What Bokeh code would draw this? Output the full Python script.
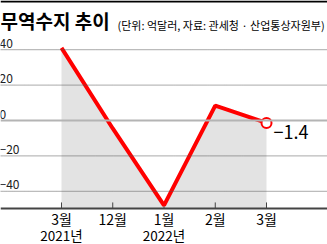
from bokeh.plotting import figure
from bokeh.layouts import column
from bokeh.models import Span, ColumnDataSource, Range1d
from bokeh.core.properties import value
from bokeh.embed import file_html
from bokeh.resources import INLINE

# data
month_labels = ["3월", "12월", "1월", "2월", "3월"]
year_labels = ["2021년", "", "2022년", "", ""]
balance = [41.0, -4.5, -48.0, 8.4, -1.4]
y_ticks = [40, 20, 0, -20, -40]
y_tick_labels = ["40", "20", "0", "−20", "−40"]
last_label = "−1.4"
title_text = "무역수지 추이"
sub_text = "(단위: 억달러, 자료: 관세청 · 산업통상자원부)"

FONT = "Noto Sans CJK KR"
idx = list(range(len(month_labels)))
y_axis_min = -49.7
y_bottom = -70.06
y_top = 48.59


def bare(fig):
    fig.outline_line_color = None
    fig.background_fill_color = "white"
    fig.border_fill_color = "white"
    fig.xaxis.visible = False
    fig.yaxis.visible = False
    fig.xgrid.visible = False
    fig.ygrid.visible = False


# header
h = figure(width=327, height=34, output_backend="svg", toolbar_location=None,
           x_range=Range1d(0, 327), y_range=Range1d(34, 0),
           min_border_left=0, min_border_right=0, min_border_top=0, min_border_bottom=0)
bare(h)
h.line(x=[0, 327], y=[1, 1], line_color="black", line_width=2)
h.text(x=[0], y=[20], text=[title_text], text_baseline="middle", text_font=value(FONT),
       text_font_size="19px", text_font_style="bold", text_color="black")
h.text(x=[117], y=[24], text=[sub_text], text_baseline="middle", text_font=value(FONT),
       text_font_size="11px", text_color="black")

# main
p = figure(width=327, height=210, output_backend="svg", toolbar_location=None,
           x_range=Range1d(-1.19, 5.19), y_range=Range1d(y_bottom, y_top),
           min_border_left=0, min_border_right=0, min_border_top=0, min_border_bottom=0)
bare(p)

for t in y_ticks:
    if t != 0:
        p.add_layout(Span(location=t, dimension="width", line_color="#555555",
                          line_width=1, line_dash="1 1"))

src = ColumnDataSource(dict(x=idx, y=balance, base=[y_axis_min] * len(idx)))
p.varea(x="x", y1="base", y2="y", source=src, fill_color="#e3e3e3")

p.add_layout(Span(location=0, dimension="width", line_color="#b4b4b4", line_width=2,
                  level="overlay"))

# x axis line and ticks
p.add_layout(Span(location=y_axis_min, dimension="width", line_color="#444444", line_width=2))
p.segment(x0=idx, x1=idx, y0=[y_axis_min] * len(idx), y1=[y_axis_min + 3.4] * len(idx),
          line_color="#444444", line_width=1)

p.line(x="x", y="y", source=src, line_color="#ff0000", line_width=4)
p.scatter(x=[idx[-1]], y=[balance[-1]], size=10, fill_color="white",
          line_color="#ff0000", line_width=2)
p.text(x=[idx[-1]], y=[balance[-1]], text=[last_label], x_offset=7, y_offset=9,
       text_baseline="middle", text_font=value(FONT), text_font_size="18px",
       text_color="black")

# y tick labels
p.text(x=[-1.19] * len(y_ticks), y=y_ticks, text=y_tick_labels, x_offset=-1, y_offset=-2,
       text_baseline="bottom", text_align="left", text_font=value(FONT),
       text_font_size="12px", text_color="#222222")

# x tick labels
p.text(x=idx, y=[-55.9] * len(idx), text=month_labels, text_align="center",
       text_baseline="middle", text_font=value(FONT), text_font_size="14px",
       text_color="black")
p.text(x=idx, y=[-64.6] * len(idx), text=year_labels, text_align="center",
       text_baseline="middle", text_font=value(FONT), text_font_size="13.5px",
       text_color="black")

layout = column(h, p, spacing=0)
open("out.html", "w").write(file_html(layout, INLINE))
